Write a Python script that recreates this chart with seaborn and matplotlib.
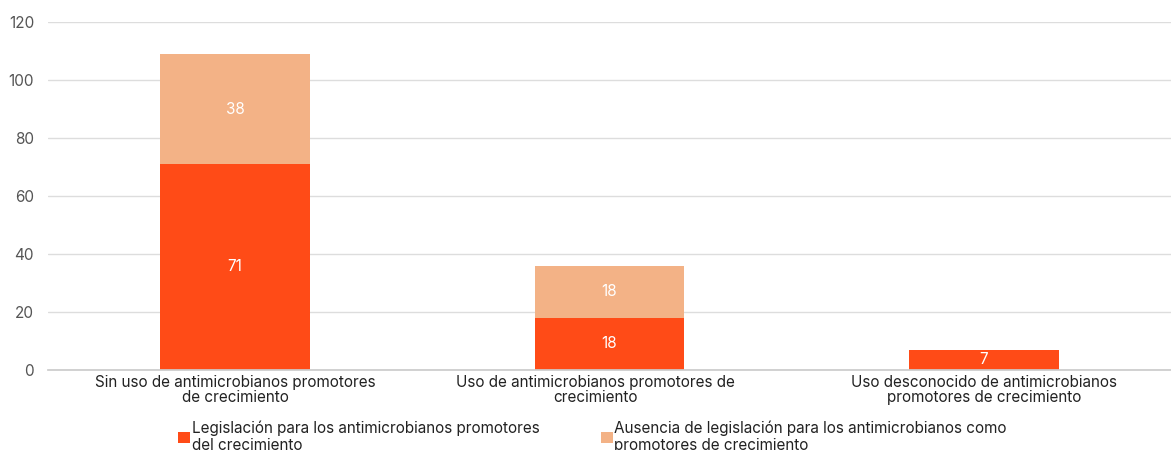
import matplotlib
matplotlib.use("Agg")
import matplotlib.pyplot as plt
from matplotlib.patches import Patch
from matplotlib.transforms import ScaledTranslation
import seaborn as sns
import pandas as pd

categories = [
    "Sin uso de antimicrobianos promotores\nde crecimiento",
    "Uso de antimicrobianos promotores de\ncrecimiento",
    "Uso desconocido de antimicrobianos\npromotores de crecimiento",
]
legislacion = [71, 18, 7]
ausencia = [38, 18, 0]
series_names = [
    "Legislación para los antimicrobianos promotores\ndel crecimiento",
    "Ausencia de legislación para los antimicrobianos como\npromotores de crecimiento",
]
colors = ["#FF4B17", "#F3B286"]

sns.set_theme(style="white")
plt.rcParams["font.family"] = ["Inter", "DejaVu Sans"]

df = pd.DataFrame({"cat": categories, "leg": legislacion, "aus": ausencia})

fig = plt.figure(figsize=(11.71, 4.5), dpi=100)
ax = fig.add_axes([0.041, 0.178, 0.959, 0.773])

sns.barplot(data=df, x="cat", y="leg", color=colors[0], width=0.4,
            saturation=1, ax=ax, linewidth=0)
sns.barplot(data=df, x="cat", y="aus", color=colors[1], width=0.4,
            saturation=1, ax=ax, linewidth=0, bottom=df["leg"])

for i, (a, b) in enumerate(zip(legislacion, ausencia)):
    if a > 0:
        ax.text(i, a / 2, str(a), ha="center", va="center", color="white", fontsize=11)
    if b > 0:
        ax.text(i, a + b / 2, str(b), ha="center", va="center", color="white", fontsize=11)

ax.set_xlim(-0.5, 2.5)
ax.set_ylim(0, 120)
ax.set_yticks(range(0, 121, 20))
ax.yaxis.grid(True, color="#dddddd", linewidth=1)
ax.set_axisbelow(True)
ax.set_xlabel("")
ax.set_ylabel("")
for side in ["top", "right", "left"]:
    ax.spines[side].set_visible(False)
ax.spines["bottom"].set_color("#cccccc")
ax.tick_params(axis="y", length=0, labelsize=11, labelcolor="#555555", pad=10)
ax.tick_params(axis="x", length=0, labelsize=11, labelcolor="#222222", pad=4)
xlabels = ax.get_xticklabels()
for lbl in xlabels:
    lbl.set_linespacing(0.95)
# middle category label sits a little left of its bar
xlabels[1].set_transform(xlabels[1].get_transform()
                         + ScaledTranslation(-0.14, 0, fig.dpi_scale_trans))

handles = [Patch(facecolor=c, edgecolor="none") for c in colors]
fig.legend(handles, series_names, loc="upper left", ncol=2,
           bbox_to_anchor=(0.152, 0.066), frameon=False, fontsize=11,
           handlelength=0.8, handleheight=0.8, handletextpad=0.1,
           columnspacing=4.0, labelcolor="#222222", borderaxespad=0,
           borderpad=0)

fig.savefig("out.png", dpi=100)
